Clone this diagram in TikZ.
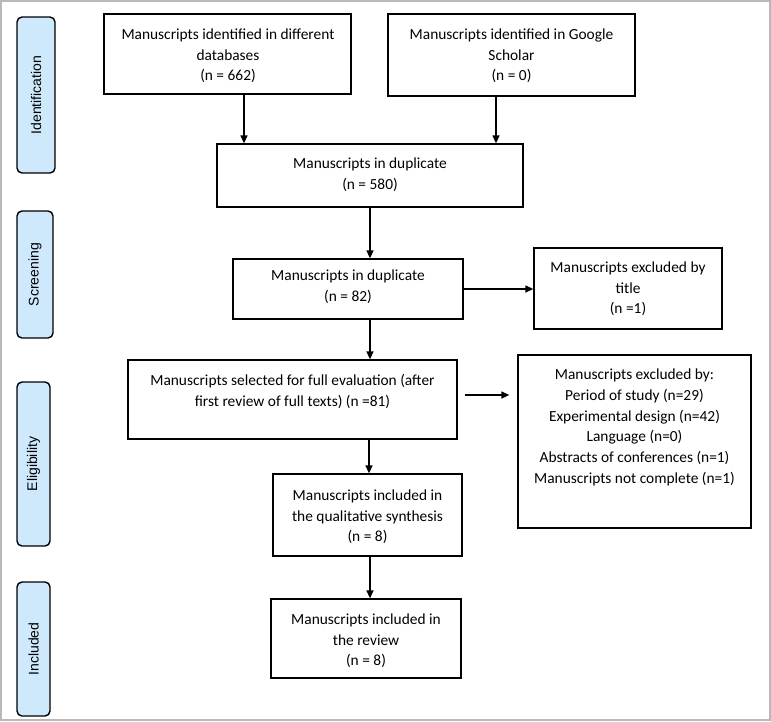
\documentclass[tikz,border=0pt]{standalone}
\usepackage{fontspec}
\setmainfont{Carlito}
\newfontfamily\sidefont{Liberation Sans}
\usetikzlibrary{arrows.meta}
\definecolor{sideblue}{RGB}{206,232,252}
\definecolor{framegray}{RGB}{185,185,185}
\tikzset{
  box/.style={draw=black, line width=1.3pt, rectangle, inner sep=0pt},
  txt/.style={align=center, inner sep=0pt, font=\fontsize{15.4}{20.7}\selectfont},
  side/.style={draw=black, line width=1.4pt, rounded corners=5pt, fill=sideblue, inner sep=0pt},
  sidetxt/.style={rotate=90, inner sep=0pt, font=\sidefont\fontsize{14}{16}\selectfont},
  arr/.style={line width=1.3pt, -{Triangle[length=8pt,width=7pt]}}
}
\begin{document}
\begin{tikzpicture}[x=1pt,y=-1pt]
\useasboundingbox (0,0) rectangle (771,721);
\draw[framegray, line width=1.8pt] (1,1) rectangle (770,720);

% side labels
\node[side, minimum width=38pt, minimum height=156pt] (S1) at (36,95) {};
\node[sidetxt] (S1t) at (S1.center) {Identification};
\node[side, minimum width=36pt, minimum height=127pt] (S2) at (35,274.5) {};
\node[sidetxt] (S2t) at (S2.center) {Screening};
\node[side, minimum width=33pt, minimum height=164pt] (S3) at (33.5,464) {};
\node[sidetxt] (S3t) at (S3.center) {Eligibility};
\node[side, minimum width=33pt, minimum height=134pt] (S4) at (33.5,649) {};
\node[sidetxt] (S4t) at (S4.center) {Included};

% boxes
\node[box, minimum width=247pt, minimum height=80pt] (A) at (227.5,54) {};
\node[txt] (At) at (228,56) {Manuscripts identified in different\\databases\\(n = 662)};

\node[box, minimum width=247pt, minimum height=82pt] (B) at (511.5,55) {};
\node[txt] (Bt) at (511.5,56) {Manuscripts identified in Google\\Scholar\\(n = 0)};

\node[box, minimum width=306pt, minimum height=63pt] (C) at (370,175.5) {};
\node[txt] (Ct) at (370,175) {Manuscripts in duplicate\\(n = 580)};

\node[box, minimum width=230pt, minimum height=60pt] (D) at (348,289) {};
\node[txt] (Dt) at (348,287) {Manuscripts in duplicate\\(n = 82)};

\node[box, minimum width=188pt, minimum height=81pt] (F) at (628,288.5) {};
\node[txt] (Ft) at (628,289) {Manuscripts excluded by\\title\\(n =1)};

\node[box, minimum width=329pt, minimum height=79pt] (E) at (292.5,399.5) {};
\node[txt] (Et) at (292.5,391.5) {Manuscripts selected for full evaluation (after\\first review of full texts) (n =81)};

\node[box, minimum width=233pt, minimum height=173pt] (G) at (634.5,441.5) {};
\node[txt] (Gt) at (634.5,427.5) {Manuscripts excluded by:\\Period of study (n=29)\\Experimental design (n=42)\\Language (n=0)\\Abstracts of conferences (n=1)\\Manuscripts not complete (n=1)};

\node[box, minimum width=189pt, minimum height=82pt] (H) at (367.5,515) {};
\node[txt] (Ht) at (367.5,517) {Manuscripts included in\\the qualitative synthesis\\(n = 8)};

\node[box, minimum width=190pt, minimum height=79pt] (I) at (366,638.5) {};
\node[txt] (It) at (366,641) {Manuscripts included in\\the review\\(n = 8)};

% connectors
\draw[arr] (A.south -| 244,0) -- (C.north -| 244,0);
\draw[arr] (B.south -| 496,0) -- (C.north -| 496,0);
\draw[arr] (C.south -| 370,0) -- (D.north -| 370,0);
\draw[arr] (D.east |- 0,289) -- (F.west |- 0,289);
\draw[arr] (D.south -| 370,0) -- (E.north -| 370,0);
\draw[arr, shorten <=7pt, shorten >=8pt] (E.east |- 0,395) -- (G.west |- 0,395);
\draw[arr] (E.south -| 369,0) -- (H.north -| 369,0);
\draw[arr] (H.south -| 370,0) -- (I.north -| 370,0);
\end{tikzpicture}
\end{document}
